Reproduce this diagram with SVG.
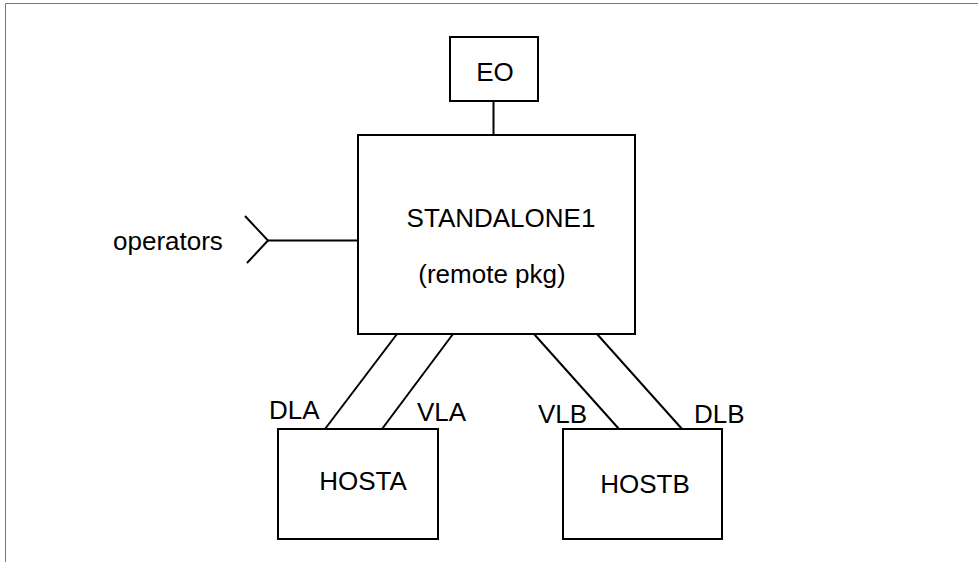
<svg xmlns="http://www.w3.org/2000/svg" width="978" height="562" viewBox="0 0 978 562">
<style>
.box{fill:#fff;stroke:#000;stroke-width:2}
.ln{stroke:#000;stroke-width:2;fill:none}
text{font-family:"Liberation Sans",Arial,sans-serif;font-size:26px;fill:#000}
.c{text-anchor:middle}
</style>
<rect width="978" height="562" fill="#fff"/>
<g id="frame"><path d="M5.5,562 V3.5 H978" stroke="#777" stroke-width="1" fill="none"/></g>
<g id="connectors">
<line class="ln" x1="493.5" y1="101" x2="493.5" y2="135"/>
<line class="ln" x1="268" y1="240.5" x2="358" y2="240.5"/>
<polyline class="ln" points="245,216 268,240.5 247,263"/>
<line class="ln" x1="397" y1="334" x2="325" y2="429"/>
<line class="ln" x1="453" y1="334" x2="382" y2="429"/>
<line class="ln" x1="534" y1="334" x2="619" y2="429"/>
<line class="ln" x1="597" y1="334" x2="682" y2="429"/>
</g>
<g id="EO"><rect class="box" x="450" y="37" width="88" height="64"/><text class="c" x="495" y="81">EO</text></g>
<g id="STANDALONE1"><rect class="box" x="358" y="135" width="277" height="199"/><text class="c" x="501" y="227">STANDALONE1</text><text class="c" x="492" y="283">(remote pkg)</text></g>
<g id="operators"><text x="113" y="250">operators</text></g>
<g id="HOSTA"><rect class="box" x="278" y="429" width="160" height="110"/><text class="c" x="363" y="490">HOSTA</text></g>
<g id="HOSTB"><rect class="box" x="563" y="429" width="159" height="110"/><text class="c" x="645" y="493">HOSTB</text></g>
<g id="labels">
<text x="269" y="419">DLA</text>
<text x="417" y="421">VLA</text>
<text x="538" y="423">VLB</text>
<text x="694" y="423">DLB</text>
</g>
</svg>
